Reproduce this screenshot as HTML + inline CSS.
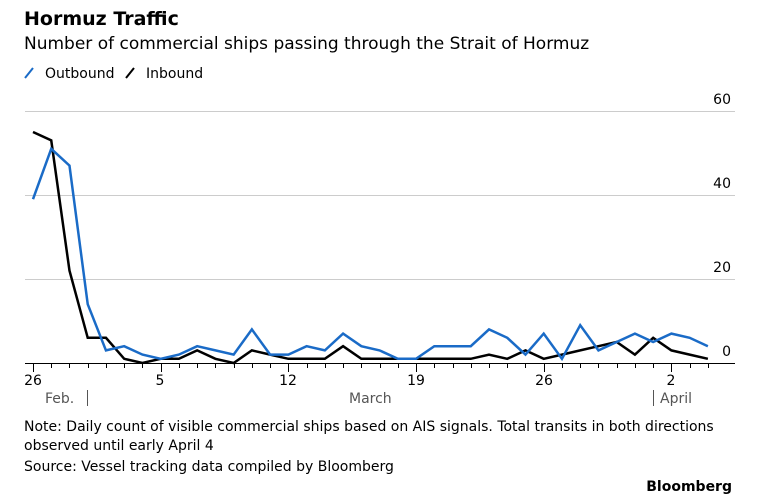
<!DOCTYPE html><html><head><style>
body{margin:0;background:#fff;width:757px;height:499px;overflow:hidden;font-family:"DejaVu Sans","Liberation Sans",sans-serif}
</style></head><body>
<svg width="757" height="499" xmlns="http://www.w3.org/2000/svg" font-family="DejaVu Sans, Liberation Sans, sans-serif">
<text x="24" y="25" font-size="19" font-weight="bold" fill="#000">Hormuz Traffic</text>
<text x="24" y="49" font-size="17" fill="#000">Number of commercial ships passing through the Strait of Hormuz</text>
<line x1="25" y1="78" x2="33" y2="68" stroke="#1a6bc7" stroke-width="2"/>
<text x="45" y="78" font-size="14">Outbound</text>
<line x1="126" y1="78" x2="134" y2="68" stroke="#000" stroke-width="2"/>
<text x="146" y="78" font-size="14">Inbound</text>
<g stroke="#ccc" stroke-width="1">
<line x1="25" y1="111.5" x2="735" y2="111.5"/><line x1="25" y1="195.5" x2="735" y2="195.5"/><line x1="25" y1="279.5" x2="735" y2="279.5"/>
</g>
<g font-size="14" text-anchor="end" fill="#000">
<text x="731" y="104">60</text><text x="731" y="188">40</text><text x="731" y="272">20</text><text x="731" y="356">0</text>
</g>
<line x1="25" y1="363.5" x2="735" y2="363.5" stroke="#000" stroke-width="1"/>
<g id="ticks" stroke="#000" stroke-width="1"></g>
<polyline id="inb" fill="none" stroke="#000" stroke-width="2.5"/>
<polyline id="outb" fill="none" stroke="#1a6bc7" stroke-width="2.5"/>
<g font-size="14" text-anchor="middle" fill="#000">
<text x="33" y="385">26</text><text x="160" y="385">5</text><text x="288" y="385">12</text><text x="416" y="385">19</text><text x="544" y="385">26</text><text x="671" y="385">2</text>
</g>
<g font-size="14" fill="#555">
<text x="45" y="403">Feb.</text><line x1="87.5" y1="390" x2="87.5" y2="406" stroke="#555"/>
<text x="349" y="403">March</text>
<line x1="653.5" y1="390" x2="653.5" y2="406" stroke="#555"/><text x="660" y="403">April</text>
</g>
<g font-size="14" fill="#000">
<text x="24" y="431">Note: Daily count of visible commercial ships based on AIS signals. Total transits in both directions</text>
<text x="24" y="450">observed until early April 4</text>
<text x="24" y="471">Source: Vessel tracking data compiled by Bloomberg</text>
</g>
<text x="732" y="491" font-size="14" font-weight="bold" text-anchor="end">Bloomberg</text>
</svg>
<script>
var o=[39,51,47,14,3,4,2,1,2,4,3,2,8,2,2,4,3,7,4,3,1,1,4,4,4,8,6,2,7,1,9,3,5,7,5,7,6,4];
var n=[55,53,22,6,6,1,0,1,1,3,1,0,3,2,1,1,1,4,1,1,1,1,1,1,1,2,1,3,1,2,3,4,5,2,6,3,2,1];
function X(i){return 33+i*18.24}function Y(v){return 363-v*4.2}
document.getElementById('outb').setAttribute('points',o.map((v,i)=>X(i)+','+Y(v)).join(' '));
document.getElementById('inb').setAttribute('points',n.map((v,i)=>X(i)+','+Y(v)).join(' '));
var g=document.getElementById('ticks'),s='';
for(var i=0;i<=37;i++){var x=Math.round(X(i))+0.5;var big=(i%7==0);s+='<line x1="'+x+'" y1="363" x2="'+x+'" y2="'+(big?372:368)+'"/>';}
g.innerHTML=s;
</script>
</body></html>
